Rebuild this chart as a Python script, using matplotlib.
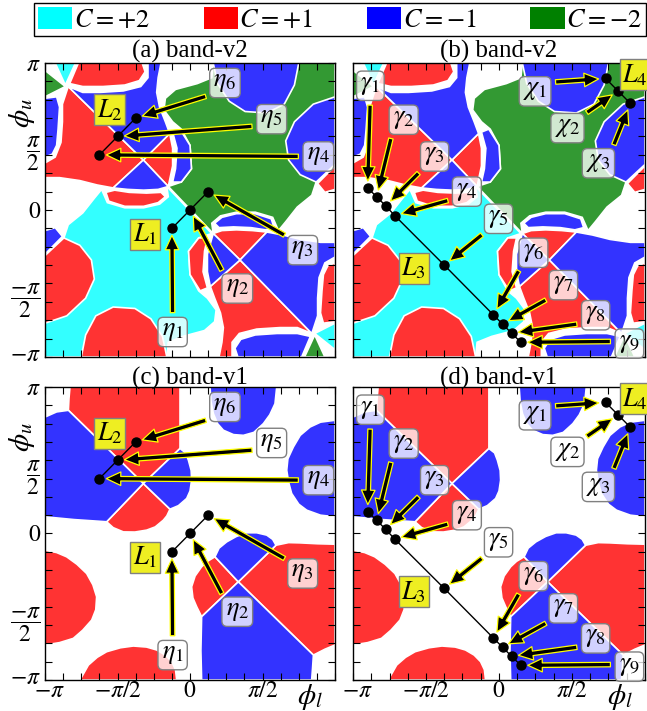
import numpy as np
import matplotlib
matplotlib.use('Agg')
import matplotlib.pyplot as plt
import matplotlib.transforms as mtransforms
from matplotlib.patches import Polygon, Patch

plt.rcParams['font.family'] = ['Liberation Serif', 'DejaVu Serif']
plt.rcParams['mathtext.fontset'] = 'stix'

# region colours of the Chern numbers (map) and legend colours
CYAN, RED, BLUE, GREEN = '#33ffff', '#ff3333', '#3333ff', '#339933'
legend_colors = ['#00ffff', '#ff0000', '#0000ff', '#008000']
legend_labels = [r'$C = +2$', r'$C = +1$', r'$C = -1$', r'$C = -2$']

# ---- phase map of band-v2, outlines in units of pi (phi_l, phi_u) ----
# green / cyan are drawn first, the red / blue islands sit on top of them
v2_green = [
    [(-0.15, 0.16), (0.16, -0.16), (0.15, -0.09), (0.21, -0.04), (0.32, -0.015), (0.45, -0.015),
     (0.57, -0.05), (0.61, -0.14), (0.66, -0.08), (0.74, 0.02), (0.84, 0.1), (0.87, 0.19),
     (0.95, 0.3), (1.0, 0.35), (1.0, 1.0), (0.75, 1.0), (0.16, 1.0), (0.15, 0.9), (0.05, 0.86),
     (-0.1, 0.82), (-0.17, 0.76), (-0.18, 0.68), (-0.12, 0.6), (-0.06, 0.55), (0.0, 0.44),
     (0.01, 0.28), (-0.06, 0.19)],
    [(-1.0, 0.95), (-0.86, 0.84), (-1.0, 0.77)],
    [(0.93, -1.0), (0.79, -1.0), (0.86, -0.85)],
]
v2_cyan = [
    [(0.15, -0.16), (-0.16, 0.16), (-0.15, 0.09), (-0.21, 0.04), (-0.32, 0.015), (-0.45, 0.015),
     (-0.57, 0.05), (-0.61, 0.14), (-0.66, 0.08), (-0.74, -0.02), (-0.84, -0.1), (-0.87, -0.19),
     (-0.95, -0.3), (-1.0, -0.35), (-1.0, -1.0), (-0.75, -1.0), (-0.16, -1.0), (-0.15, -0.9),
     (-0.05, -0.86), (0.1, -0.82), (0.17, -0.76), (0.18, -0.68), (0.12, -0.6), (0.06, -0.55),
     (0.0, -0.44), (-0.01, -0.28), (0.06, -0.19)],
    [(-0.93, 1.0), (-0.79, 1.0), (-0.86, 0.85)],
    [(1.0, -0.95), (0.86, -0.84), (1.0, -0.77)],
]
v2_red = [
    [(-0.77, 1.0), (-0.33, 1.0), (-0.31, 0.94), (-0.35, 0.88), (-0.45, 0.85), (-0.6, 0.84),
     (-0.74, 0.84), (-0.83, 0.86)],
    [(-0.84, 0.84), (-0.322, 0.34), (-0.53, 0.15), (-0.64, 0.17), (-0.76, 0.2), (-0.9, 0.22),
     (-1.0, 0.22), (-1.0, 0.32), (-0.93, 0.36), (-0.89, 0.46), (-0.88, 0.6), (-0.88, 0.72)],
    [(-0.322, 0.34), (-0.14, 0.52), (-0.12, 0.42), (-0.12, 0.3), (-0.15, 0.16)],
    [(-0.52, 0.135), (-0.42, 0.12), (-0.3, 0.115), (-0.2, 0.12), (-0.17, 0.09), (-0.22, 0.05),
     (-0.32, 0.025), (-0.45, 0.025), (-0.56, 0.06), (-0.58, 0.12)],
    [(0.88, 0.18), (1.0, 0.3), (1.0, 0.14), (0.93, 0.12)],
    [(0.84, -0.84), (0.345, -0.34), (0.14, -0.52), (0.17, -0.6), (0.21, -0.7), (0.23, -0.8),
     (0.22, -0.9), (0.2, -1.0), (0.29, -1.0), (0.29, -0.9), (0.34, -0.84), (0.46, -0.81),
     (0.62, -0.8), (0.74, -0.8)],
    [(0.345, -0.34), (0.16, -0.16), (0.22, -0.14), (0.32, -0.135), (0.43, -0.14), (0.53, -0.15)],
    [(0.12, -0.53), (0.07, -0.55), (0.0, -0.44), (-0.01, -0.28), (0.06, -0.19), (0.12, -0.19),
     (0.1, -0.28), (0.09, -0.42)],
    [(1.0, -0.76), (0.92, -0.77), (0.9, -0.7), (0.91, -0.55), (0.92, -0.44), (0.95, -0.38),
     (1.0, -0.36)],
    [(-0.16, -1.0), (-0.19, -0.86), (-0.27, -0.74), (-0.38, -0.67), (-0.53, -0.66), (-0.65, -0.72),
     (-0.72, -0.85), (-0.75, -1.0)],
    [(-1.0, -0.77), (-0.85, -0.72), (-0.72, -0.6), (-0.66, -0.47), (-0.68, -0.34), (-0.76, -0.24),
     (-0.87, -0.19), (-1.0, -0.31)],
]
v2_blue = [
    [(-0.84, 0.84), (-0.322, 0.34), (-0.14, 0.52), (-0.17, 0.6), (-0.21, 0.7), (-0.23, 0.8),
     (-0.22, 0.9), (-0.2, 1.0), (-0.29, 1.0), (-0.29, 0.9), (-0.34, 0.84), (-0.46, 0.81),
     (-0.62, 0.8), (-0.74, 0.8)],
    [(-0.322, 0.34), (-0.15, 0.16), (-0.22, 0.14), (-0.32, 0.135), (-0.43, 0.14), (-0.53, 0.15)],
    [(-0.12, 0.53), (-0.07, 0.55), (0.0, 0.44), (0.01, 0.28), (-0.06, 0.19), (-0.12, 0.19),
     (-0.1, 0.28), (-0.09, 0.42)],
    [(-1.0, 0.76), (-0.92, 0.77), (-0.9, 0.7), (-0.91, 0.55), (-0.92, 0.44), (-0.95, 0.38),
     (-1.0, 0.36)],
    [(0.16, 1.0), (0.19, 0.86), (0.27, 0.74), (0.38, 0.67), (0.53, 0.66), (0.65, 0.72),
     (0.72, 0.85), (0.75, 1.0)],
    [(1.0, 0.77), (0.85, 0.72), (0.72, 0.6), (0.66, 0.47), (0.68, 0.34), (0.76, 0.24),
     (0.87, 0.19), (1.0, 0.31)],
    [(0.77, -1.0), (0.33, -1.0), (0.31, -0.94), (0.35, -0.88), (0.45, -0.85), (0.6, -0.84),
     (0.74, -0.84), (0.83, -0.86)],
    [(0.84, -0.84), (0.345, -0.34), (0.53, -0.15), (0.64, -0.17), (0.76, -0.2), (0.9, -0.22),
     (1.0, -0.22), (1.0, -0.32), (0.93, -0.36), (0.89, -0.46), (0.88, -0.6), (0.88, -0.72)],
    [(0.345, -0.34), (0.14, -0.52), (0.12, -0.42), (0.12, -0.3), (0.16, -0.16)],
    [(0.52, -0.135), (0.42, -0.12), (0.3, -0.115), (0.2, -0.12), (0.17, -0.09), (0.22, -0.05),
     (0.32, -0.025), (0.45, -0.025), (0.56, -0.06), (0.58, -0.12)],
    [(-0.88, -0.18), (-1.0, -0.3), (-1.0, -0.14), (-0.93, -0.12)],
]

# ---- phase map of band-v1 ----
v1_blue = [
    [(-1.0, 0.795), (-0.92, 0.83), (-0.839, 0.841), (-0.322, 0.341), (-0.575, 0.08), (-0.8, 0.095),
     (-1.0, 0.114)],
    [(1.0, 0.773), (0.9, 0.76), (0.828, 0.727), (0.76, 0.67), (0.713, 0.591), (0.675, 0.51),
     (0.667, 0.432), (0.68, 0.35), (0.701, 0.273), (0.75, 0.2), (0.805, 0.159), (0.9, 0.125),
     (1.0, 0.114)],
    [(-0.322, 0.341), (-0.069, 0.58), (-0.03, 0.55), (-0.011, 0.5), (0.008, 0.43), (0.011, 0.364),
     (0.0, 0.29), (-0.023, 0.239), (-0.08, 0.19), (-0.138, 0.166)],
    [(0.138, 1.0), (0.145, 0.9), (0.161, 0.818), (0.19, 0.75), (0.23, 0.705), (0.3, 0.675),
     (0.368, 0.67), (0.44, 0.69), (0.506, 0.75), (0.55, 0.81), (0.586, 0.886), (0.598, 1.0)],
    [(0.333, -0.33), (0.172, -0.159), (0.2, -0.1), (0.253, -0.057), (0.32, -0.02), (0.391, 0.005),
     (0.46, 0.005), (0.529, -0.011), (0.57, -0.04), (0.593, -0.08)],
    [(0.333, -0.33), (0.08, -0.568), (0.075, -0.8), (0.08, -1.0), (0.839, -1.0), (0.845, -0.92),
     (0.851, -0.83)],
]
v1_red = [
    [(-0.828, 1.0), (-0.069, 1.0), (-0.069, 0.8), (-0.069, 0.58), (-0.322, 0.341), (-0.839, 0.841),
     (-0.835, 0.92)],
    [(-0.322, 0.341), (-0.138, 0.166), (-0.16, 0.12), (-0.184, 0.091), (-0.24, 0.045), (-0.299, 0.023),
     (-0.38, 0.01), (-0.46, 0.011), (-0.53, 0.04), (-0.575, 0.08)],
    [(0.333, -0.33), (0.593, -0.08), (0.68, -0.062), (0.759, -0.064), (0.88, -0.07), (1.0, -0.073),
     (1.0, -0.761), (0.93, -0.79), (0.851, -0.83)],
    [(0.333, -0.33), (0.172, -0.159), (0.12, -0.19), (0.08, -0.227), (0.035, -0.29), (0.011, -0.364),
     (0.02, -0.44), (0.046, -0.5), (0.08, -0.568)],
    [(-1.0, -0.114), (-0.92, -0.13), (-0.851, -0.159), (-0.78, -0.21), (-0.713, -0.273), (-0.67, -0.35),
     (-0.644, -0.432), (-0.65, -0.52), (-0.678, -0.591), (-0.74, -0.66), (-0.805, -0.716),
     (-0.9, -0.745), (-1.0, -0.761)],
    [(-0.759, -1.0), (-0.701, -0.898), (-0.64, -0.845), (-0.575, -0.807), (-0.48, -0.78),
     (-0.391, -0.768), (-0.3, -0.775), (-0.23, -0.795), (-0.17, -0.83), (-0.126, -0.875),
     (-0.1, -0.93), (-0.092, -1.0)],
]

# ---- paths (units of pi) ----
eta_x = [-0.125, 0.0, 0.125, -0.625, -0.5, -0.375]
eta_y = [-0.125, 0.0, 0.125, 0.375, 0.5, 0.625]
gamma_x = [-0.9, -0.838, -0.776, -0.714, -0.375, -0.038, 0.024, 0.086, 0.15]
gamma_y = [0.15, 0.09, 0.028, -0.038, -0.375, -0.714, -0.776, -0.838, -0.9]
chi_x = [0.73, 0.815, 0.9]
chi_y = [0.895, 0.81, 0.725]

eta_names = [r'$\eta_{%d}$' % i for i in range(1, 7)]
gamma_names = [r'$\gamma_{%d}$' % i for i in range(1, 10)]
chi_names = [r'$\chi_{%d}$' % i for i in range(1, 4)]

# label box placement (box centre, arrow start on the box)
eta_box = [(-0.12, -0.83), (0.326, -0.534), (0.777, -0.273), (0.885, 0.364), (0.563, 0.618), (0.241, 0.864)]
eta_rel = [(0.5, 1), (0, 1), (0, 1), (0, 0.5), (0, 0.2), (0, 0)]
gamma_box = [(-0.881, 0.845), (-0.653, 0.614), (-0.441, 0.364), (-0.22, 0.125), (-0.003, -0.06),
             (0.236, -0.291), (0.441, -0.511), (0.662, -0.716), (0.893, -0.909)]
gamma_rel = [(0.5, 0), (0, 0), (0, 0), (0, 0.2), (0, 0), (0, 0), (0, 0), (0, 0.15), (0, 0.6)]
chi_box = [(0.247, 0.807), (0.469, 0.557), (0.681, 0.318)]
chi_rel = [(1, 0.9), (1, 1), (1, 1)]


def draw_map(ax, regions):
    for color, polys in regions:
        for p in polys:
            ax.add_patch(Polygon(p, closed=True, fc=color, ec='white', lw=1.2, zorder=1))


def draw_path(ax, xs, ys, names, boxes, rels, lname, lpos):
    ax.plot(xs, ys, '-', color='black', lw=1, zorder=3)
    ax.plot(xs, ys, 'o', color='black', ms=6.5, zorder=4)
    for x, y, n, b, r in zip(xs, ys, names, boxes, rels):
        ax.annotate(n, xy=(x, y), xytext=b, ha='center', va='center', fontsize=19, zorder=6,
                    annotation_clip=False,
                    bbox=dict(boxstyle='round,pad=0.14,rounding_size=0.2', fc=(1, 1, 1, 0.78),
                              ec='#808080', lw=1),
                    arrowprops=dict(arrowstyle='simple,head_length=0.8,head_width=0.75,tail_width=0.25',
                                    fc='black', ec='yellow', lw=0.9, relpos=r,
                                    shrinkA=3, shrinkB=5, mutation_scale=13))
    ax.text(lpos[0], lpos[1], lname, ha='center', va='center', fontsize=19, zorder=6, clip_on=False,
            bbox=dict(boxstyle='square,pad=0.1', fc='#eeee22', ec='#808080', lw=1))


def setup_axes(ax, title, show_x, show_y):
    ax.set_xlim(-1, 1)
    ax.set_ylim(-1, 1)
    ticks = np.arange(-1, 1.001, 0.125)
    xl = {-1.0: r'$-\pi$', -0.5: r'$-\pi/2$', 0.0: r'$0$', 0.5: r'$\pi/2$'}
    yl = {1.0: r'$\pi$', 0.5: r'$\dfrac{\pi}{2}$', 0.0: r'$0$', -0.5: r'$\dfrac{-\pi}{2}$', -1.0: r'$-\pi$'}
    ax.set_xticks(ticks)
    ax.set_yticks(ticks)
    ax.set_xticklabels([xl.get(round(t, 3), '') for t in ticks] if show_x else [])
    ax.set_yticklabels([yl.get(round(t, 3), '') for t in ticks] if show_y else [])
    ax.tick_params(direction='in', length=5, width=0.8, top=True, right=True, labelsize=17)
    ax.tick_params(axis='x', pad=1)
    ax.tick_params(axis='y', pad=3)
    if show_y:
        down = mtransforms.ScaledTranslation(0, -7 / 72, ax.figure.dpi_scale_trans)
        up = mtransforms.ScaledTranslation(0, 3 / 72, ax.figure.dpi_scale_trans)
        for t, lab in zip(ticks, ax.get_yticklabels()):
            if abs(abs(t) - 0.5) < 1e-6:
                lab.set_transform(lab.get_transform() + down)
            elif t < -0.99:
                lab.set_transform(lab.get_transform() + up)
        ax.text(-0.078, 0.83, r'$\phi_u$', rotation=90, transform=ax.transAxes,
                fontsize=21, ha='center', va='center')
    if show_x:
        right = mtransforms.ScaledTranslation(3 / 72, 0, ax.figure.dpi_scale_trans)
        first = ax.get_xticklabels()[0]
        first.set_transform(first.get_transform() + right)
        ax.text(0.83, -0.058, r'$\phi_l$', transform=ax.get_xaxis_transform(),
                fontsize=21, ha='center', va='center')
    for s in ax.spines.values():
        s.set_linewidth(1)
        s.set_zorder(5)
    ax.set_title(title, fontsize=18, pad=2)


fig = plt.figure(figsize=(6.47, 7.11), dpi=100)
ax_a = fig.add_axes([0.0696, 0.4979, 0.4482, 0.4135])
ax_b = fig.add_axes([0.5456, 0.4979, 0.4513, 0.4135])
ax_c = fig.add_axes([0.0696, 0.0436, 0.4482, 0.4121])
ax_d = fig.add_axes([0.5456, 0.0436, 0.4513, 0.4121])

v2_regions = [(CYAN, v2_cyan), (GREEN, v2_green), (RED, v2_red), (BLUE, v2_blue)]
v1_regions = [(RED, v1_red), (BLUE, v1_blue)]

for ax, regions, title, sx, sy in [(ax_a, v2_regions, '(a) band-v2', False, True),
                                  (ax_b, v2_regions, '(b) band-v2', False, False),
                                  (ax_c, v1_regions, '(c) band-v1', True, True),
                                  (ax_d, v1_regions, '(d) band-v1', True, False)]:
    draw_map(ax, regions)
    setup_axes(ax, title, sx, sy)

for ax in (ax_a, ax_c):
    draw_path(ax, eta_x[:3], eta_y[:3], eta_names[:3], eta_box[:3], eta_rel[:3], r'$L_1$', (-0.31, -0.164))
    draw_path(ax, eta_x[3:], eta_y[3:], eta_names[3:], eta_box[3:], eta_rel[3:], r'$L_2$', (-0.552, 0.682))
for ax in (ax_b, ax_d):
    draw_path(ax, gamma_x, gamma_y, gamma_names, gamma_box, gamma_rel, r'$L_3$', (-0.585, -0.398))
    draw_path(ax, chi_x, chi_y, chi_names, chi_box, chi_rel, r'$L_4$', (0.932, 0.92))

handles = [Patch(fc=c, ec='none') for c in legend_colors]
fig.legend(handles, legend_labels, loc='center', bbox_to_anchor=(0.5255, 0.973), ncol=4,
           frameon=True, fancybox=False, edgecolor='black', framealpha=1, fontsize=19,
           handlelength=1.3, handleheight=0.9, handletextpad=0.05, columnspacing=2.05,
           borderpad=0.15, borderaxespad=0)

fig.savefig('out.png', dpi=100)
